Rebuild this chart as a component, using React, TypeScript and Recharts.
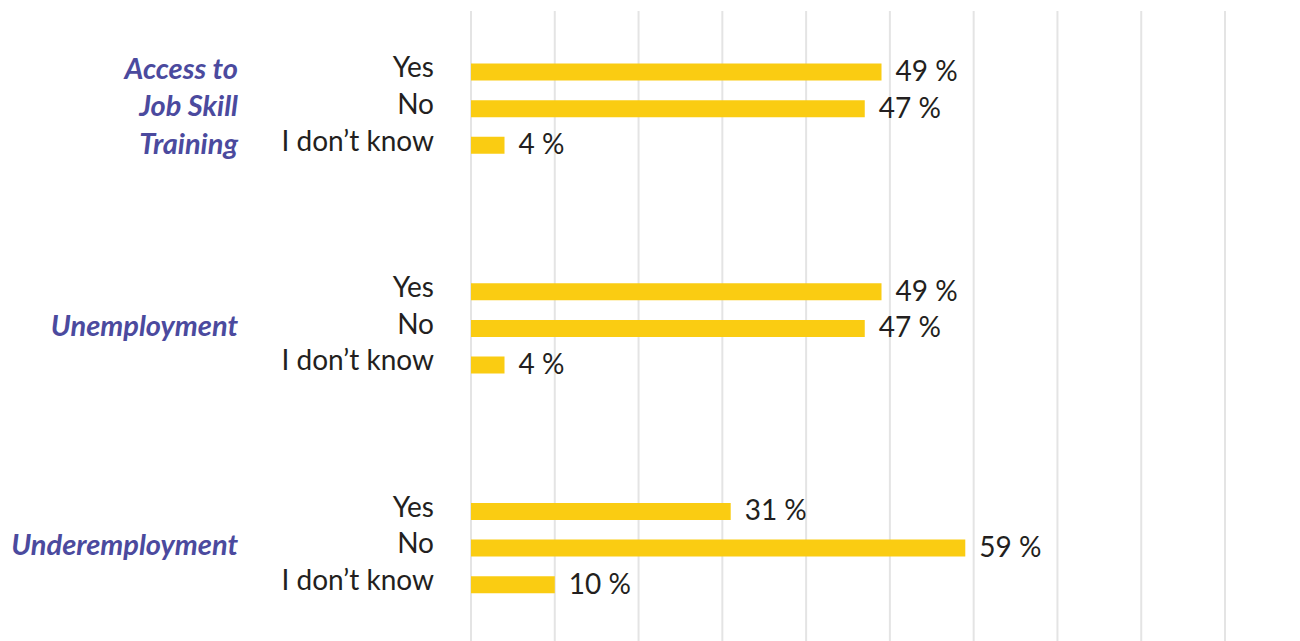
import React from "react";
import { BarChart, Bar, XAxis, YAxis, CartesianGrid, LabelList } from "recharts";

const groupNames = ["Access to Job Skill Training", "Unemployment", "Underemployment"];
const groupLabelLines = [["Access to", "Job Skill", "Training"], ["Unemployment"], ["Underemployment"]];
const answers = ["Yes", "No", "I don’t know"];
const yesValues = [49, 49, 31];
const noValues = [47, 47, 59];
const dontKnowValues = [4, 4, 10];
const xTicks = [0, 10, 20, 30, 40, 50, 60, 70, 80, 90];

type Row = { key: string; label: string; value: number | null; group: number; mid: boolean };
const rows: Row[] = [];
groupNames.forEach((g, gi) => {
  const vals = [yesValues[gi], noValues[gi], dontKnowValues[gi]];
  rows.push({ key: `${gi}-padA`, label: "", value: null, group: gi, mid: false });
  answers.forEach((a, ai) =>
    rows.push({ key: `${gi}-${ai}`, label: a, value: vals[ai], group: gi, mid: ai === 1 })
  );
  rows.push({ key: `${gi}-padB`, label: "", value: null, group: gi, mid: false });
  rows.push({ key: `${gi}-padC`, label: "", value: null, group: gi, mid: false });
});

const FONT = "Lato, 'Noto Sans', sans-serif";
const TEXT = "#231F20";
const GROUP_COLOR = "#4B4A9E";
const BAR = "#FACC12";
const LINE_H = 37.5;

const CategoryTick = (props: any) => {
  const { x, y, payload } = props;
  const row = rows.find((r) => r.key === payload.value);
  if (!row) return null;
  const lines = groupLabelLines[row.group];
  return (
    <g>
      {row.label && (
        <text x={x} y={y + 5.5} textAnchor="end" fontFamily={FONT} fontSize={28} fill={TEXT}>
          {row.label}
        </text>
      )}
      {row.mid &&
        lines.map((ln, i) => (
          <text
            key={i}
            x={x - 196}
            y={y + 7.5 + (i - (lines.length - 1) / 2) * LINE_H}
            textAnchor="end"
            fontFamily={FONT}
            fontSize={29}
            fontWeight={700}
            fontStyle="italic"
            fill={GROUP_COLOR}
          >
            {ln}
          </text>
        ))}
    </g>
  );
};

const EmptyTick = () => <g />;

const ValueLabel = (props: any) => {
  const { x, y, width, height, value } = props;
  if (value === null || value === undefined) return null;
  return (
    <text
      x={x + width + 14}
      y={y + height / 2 + 9}
      textAnchor="start"
      fontFamily={FONT}
      fontSize={28}
      fill={TEXT}
    >
      {`${value} %`}
    </text>
  );
};

export default function App() {
  return (
    <div style={{ position: "absolute", left: 0, top: 0, width: 1300, height: 641, overflow: "hidden", background: "#fff" }}>
      <BarChart
        width={1300}
        height={676}
        data={rows}
        layout="vertical"
        margin={{ top: 11, right: 75, bottom: 0, left: 0 }}
        barCategoryGap={0}
      >
        <CartesianGrid horizontal={false} vertical={true} stroke="#E4E4E4" strokeWidth={2} />
        <XAxis
          type="number"
          domain={[0, 90]}
          ticks={xTicks}
          interval={0}
          tick={<EmptyTick />}
          axisLine={false}
          tickLine={false}
          height={0}
        />
        <YAxis
          type="category"
          dataKey="key"
          width={471}
          axisLine={false}
          tickLine={false}
          tickMargin={31}
          interval={0}
          padding={{ top: 6, bottom: 0 }}
          tick={<CategoryTick />}
        />
        <Bar dataKey="value" fill={BAR} barSize={17} isAnimationActive={false}>
          <LabelList dataKey="value" content={<ValueLabel />} />
        </Bar>
      </BarChart>
    </div>
  );
}
